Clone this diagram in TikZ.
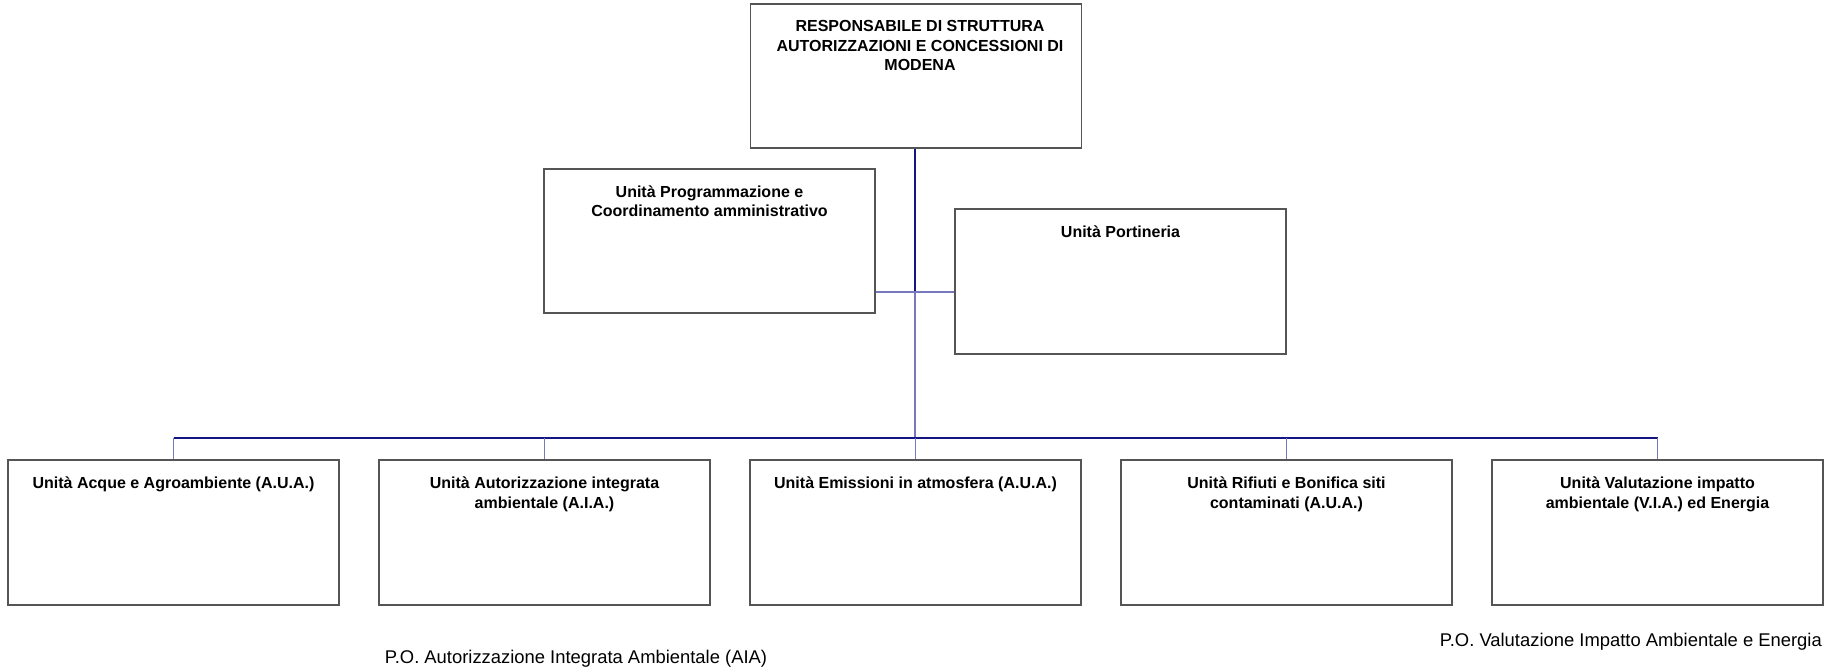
\documentclass[tikz,border=0pt]{standalone}
\usepackage{fontspec}
\setmainfont{Liberation Sans}
\usetikzlibrary{positioning}

\definecolor{linkdark}{RGB}{20,20,130}
\definecolor{linklight}{RGB}{120,120,190}
\definecolor{boxgray}{RGB}{85,85,85}

\tikzset{
    unit/.style={draw=boxgray, line width=1.3pt, minimum width=331pt,
        minimum height=145pt, inner sep=0pt},
    unittext/.style={font=\bfseries\fontsize{16}{19.5}\selectfont,
        align=center, inner sep=0pt},
    potext/.style={font=\fontsize{18.4}{22}\selectfont, inner sep=0pt},
    wire/.style={draw=linkdark, line width=1.2pt},
    drop/.style={draw=linklight, line width=1.2pt}
}

\begin{document}
\begin{tikzpicture}[x=1pt, y=-1pt]
    \useasboundingbox (0,0) rectangle (1835,670);

    % Responsabile
    \node[unit, minimum height=144pt] (resp) at (916,76) {};
    \node[unittext, below right=17pt and 4pt of resp.north, anchor=north] (resp-t)
        {RESPONSABILE DI STRUTTURA\\AUTORIZZAZIONI E CONCESSIONI DI\\MODENA};

    % Unita di staff
    \node[unit, minimum height=144pt] (prog) at (709.5,241) {};
    \node[unittext, below=17pt of prog.north] (prog-t)
        {Unità Programmazione e\\Coordinamento amministrativo};

    \node[unit] (port) at (1120.5,281.5) {};
    \node[unittext, below=17pt of port.north] (port-t) {Unità Portineria};

    % Unita operative
    \node[unit] (acq) at (173.5,532.5) {};
    \node[unittext, below=17.5pt of acq.north] (acq-t)
        {Unità Acque e Agroambiente (A.U.A.)};

    \node[unit] (aia) at (544.5,532.5) {};
    \node[unittext, below=17.5pt of aia.north] (aia-t)
        {Unità Autorizzazione integrata\\ambientale (A.I.A.)};

    \node[unit] (emi) at (915.5,532.5) {};
    \node[unittext, below=17.5pt of emi.north] (emi-t)
        {Unità Emissioni in atmosfera (A.U.A.)};

    \node[unit] (rif) at (1286.5,532.5) {};
    \node[unittext, below=17.5pt of rif.north] (rif-t)
        {Unità Rifiuti e Bonifica siti\\contaminati (A.U.A.)};

    \node[unit] (via) at (1657.5,532.5) {};
    \node[unittext, below=17.5pt of via.north] (via-t)
        {Unità Valutazione impatto\\ambientale (V.I.A.) ed Energia};

    % Collegamenti
    \coordinate (jn) at (915,292);
    \coordinate (bus) at (915,438);
    \draw[wire] (resp.south -| jn) -- (jn);
    \draw[drop] (jn) -- (bus);
    \draw[drop] (jn -| prog.east) -- (jn -| port.west);
    \draw[wire] (acq.north |- bus) -- (via.north |- bus);
    \draw[drop] (acq.north |- bus) -- (acq.north);
    \draw[drop] (aia.north |- bus) -- (aia.north);
    \draw[drop] (emi.north |- bus) -- (emi.north);
    \draw[drop] (rif.north |- bus) -- (rif.north);
    \draw[drop] (via.north |- bus) -- (via.north);

    % Posizioni organizzative
    \node[potext] (po-aia) at (576,659)
        {P.O. Autorizzazione Integrata Ambientale (AIA)};
    \node[potext, anchor=east] (po-via) at (1822,642)
        {P.O. Valutazione Impatto Ambientale e Energia};
\end{tikzpicture}
\end{document}
